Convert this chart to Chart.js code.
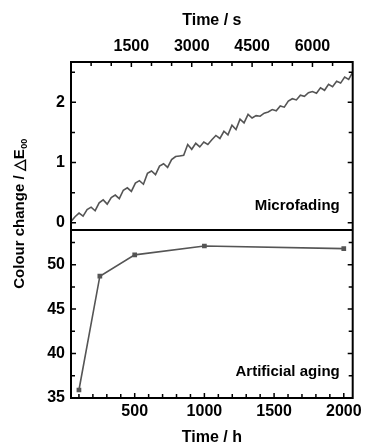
<!DOCTYPE html>
<html>
<head>
<meta charset="utf-8">
<script src="https://cdn.jsdelivr.net/npm/chart.js@4"></script>
<style>
html, body { margin: 0; padding: 0; background: #fff; }
</style>
</head>
<body>
<canvas id="c" width="366" height="446"></canvas>
<script>
// microfading: time in seconds vs colour change
const fadeTimeS = [0, 100, 200, 300, 400, 500, 600, 700, 800, 900,
  1000, 1100, 1200, 1300, 1400, 1500, 1600, 1700, 1800, 1900,
  2000, 2100, 2200, 2300, 2400, 2500, 2600, 2700, 2800, 2900,
  3000, 3100, 3200, 3300, 3400, 3500, 3600, 3700, 3800, 3900,
  4000, 4100, 4200, 4300, 4400, 4500, 4600, 4700, 4800, 4900,
  5000, 5100, 5200, 5300, 5400, 5500, 5600, 5700, 5800, 5900,
  6000, 6100, 6200, 6300, 6400, 6500, 6600, 6700, 6800, 6900, 7000];
const fadeDeltaE = [0.02, 0.10, 0.16, 0.11, 0.22, 0.26, 0.20, 0.33, 0.38, 0.31,
  0.42, 0.46, 0.40, 0.54, 0.58, 0.52, 0.66, 0.70, 0.64, 0.82,
  0.86, 0.80, 0.94, 0.98, 0.92, 1.05, 1.10, 1.11, 1.12, 1.30,
  1.22, 1.32, 1.26, 1.34, 1.30, 1.38, 1.45, 1.40, 1.52, 1.46,
  1.62, 1.55, 1.72, 1.66, 1.80, 1.74, 1.78, 1.77, 1.82, 1.84,
  1.88, 1.86, 1.94, 1.92, 2.02, 2.06, 2.04, 2.12, 2.10, 2.16,
  2.18, 2.15, 2.24, 2.20, 2.30, 2.26, 2.35, 2.32, 2.42, 2.38, 2.50];

// artificial aging: time in hours vs colour change
const ageTimeH = [100, 250, 500, 1000, 2000];
const ageDeltaE = [35.9, 48.7, 51.1, 52.1, 51.8];

// tick labels
const fadeTimeTicks = [1500, 3000, 4500, 6000];
const ageTimeTicks = [500, 1000, 1500, 2000];
const fadeYTicks = [0, 1, 2];
const ageYTicks = [35, 40, 45, 50];

const FONT = 'bold 15px "Liberation Sans", Arial, sans-serif';
const tickFont = { family: '"Liberation Sans", Arial, sans-serif', size: 16, weight: 'bold' };

function fixTicks(list) {
  return function(scale) {
    scale.ticks = list.map(v => ({ value: v }));
  };
}

const plainLabel = v => String(v);

const framePlugin = {
  id: 'frame',
  afterDatasetsDraw(chart) {
    const { ctx, chartArea: a, scales } = chart;
    const sT = scales.xTop, sB = scales.xBot, yF = scales.yFade, yA = scales.yAge;
    ctx.save();
    ctx.strokeStyle = '#000';
    ctx.lineWidth = 2;
    ctx.strokeRect(a.left, a.top, a.right - a.left, a.bottom - a.top);
    const mid = yF.bottom;
    ctx.beginPath();
    ctx.moveTo(a.left, mid);
    ctx.lineTo(a.right, mid);
    ctx.stroke();

    ctx.lineWidth = 1.5;
    ctx.beginPath();
    // top edge ticks, every 500 s
    for (let t = 500; t < 7000; t += 500) {
      const x = sT.getPixelForValue(t);
      const len = t % 1500 === 0 ? 5 : 4;
      ctx.moveTo(x, a.top); ctx.lineTo(x, a.top + len);
    }
    // bottom edge ticks, every 100 h
    for (let h = 100; h <= 2000; h += 100) {
      const x = sB.getPixelForValue(h);
      const len = h % 500 === 0 ? 5 : 4;
      ctx.moveTo(x, a.bottom); ctx.lineTo(x, a.bottom - len);
    }
    // left / right ticks, upper panel
    for (let v = 0; v <= 2.5; v += 0.5) {
      const y = yF.getPixelForValue(v);
      const len = v % 1 === 0 ? 5 : 4;
      ctx.moveTo(a.left, y); ctx.lineTo(a.left + len, y);
      ctx.moveTo(a.right, y); ctx.lineTo(a.right - len, y);
    }
    // left / right ticks, lower panel
    for (let v = 37.5; v <= 52.5; v += 2.5) {
      const y = yA.getPixelForValue(v);
      const len = v % 5 === 0 ? 5 : 4;
      ctx.moveTo(a.left, y); ctx.lineTo(a.left + len, y);
      ctx.moveTo(a.right, y); ctx.lineTo(a.right - len, y);
    }
    ctx.stroke();

    // panel labels
    ctx.fillStyle = '#000';
    ctx.font = FONT;
    ctx.textAlign = 'right';
    ctx.textBaseline = 'middle';
    ctx.fillText('Microfading', a.right - 13, yF.bottom - 24);
    ctx.fillText('Artificial aging', a.right - 13, a.bottom - 26);

    // shared y axis title
    ctx.translate(20, 214);
    ctx.rotate(-Math.PI / 2);
    const main = 'Colour change / \u25B3E';
    ctx.font = FONT;
    const w1 = ctx.measureText(main).width;
    ctx.font = 'bold 9px "Liberation Sans", Arial, sans-serif';
    const w2 = ctx.measureText('00').width;
    const x0 = -(w1 + w2) / 2;
    ctx.textAlign = 'left';
    ctx.font = FONT;
    ctx.fillText(main, x0, 0);
    ctx.font = 'bold 9px "Liberation Sans", Arial, sans-serif';
    ctx.fillText('00', x0 + w1 + 0.5, 5);
    ctx.restore();
  }
};

new Chart(document.getElementById('c'), {
  type: 'line',
  data: {
    datasets: [
      {
        label: 'Microfading',
        data: fadeTimeS.map((t, i) => ({ x: t, y: fadeDeltaE[i] })),
        xAxisID: 'xTop',
        yAxisID: 'yFade',
        borderColor: '#555',
        borderWidth: 1.6,
        pointRadius: 0,
        tension: 0
      },
      {
        label: 'Artificial aging',
        data: ageTimeH.map((t, i) => ({ x: t, y: ageDeltaE[i] })),
        xAxisID: 'xBot',
        yAxisID: 'yAge',
        borderColor: '#555',
        borderWidth: 1.6,
        pointStyle: 'rect',
        pointRadius: 2.2,
        pointBackgroundColor: '#555',
        pointBorderColor: '#555',
        tension: 0
      }
    ]
  },
  options: {
    responsive: false,
    animation: false,
    devicePixelRatio: 1,
    layout: { padding: { left: 0, right: 12, top: 0, bottom: 0 } },
    plugins: { legend: { display: false }, tooltip: { enabled: false } },
    scales: {
      xTop: {
        type: 'linear', position: 'top', min: 0, max: 7000,
        afterBuildTicks: fixTicks(fadeTimeTicks),
        afterFit: s => { s.height = 62; },
        grid: { display: false, drawTicks: false },
        border: { display: false },
        ticks: { font: tickFont, color: '#000', padding: 6, maxRotation: 0, callback: plainLabel },
        title: { display: true, text: 'Time / s', font: tickFont, color: '#000', padding: { top: 11, bottom: 4 } }
      },
      xBot: {
        type: 'linear', position: 'bottom', min: 43, max: 2064,
        afterBuildTicks: fixTicks(ageTimeTicks),
        afterFit: s => { s.height = 48; },
        grid: { display: false, drawTicks: false },
        border: { display: false },
        ticks: { font: tickFont, color: '#000', padding: 4, maxRotation: 0, callback: plainLabel },
        title: { display: true, text: 'Time / h', font: tickFont, color: '#000', padding: { top: 6, bottom: -1 } }
      },
      yAge: {
        type: 'linear', position: 'left', stack: 'panels', stackWeight: 1,
        min: 35, max: 53.9,
        afterBuildTicks: fixTicks(ageYTicks),
        afterFit: s => { s.width = 71; },
        grid: { display: false, drawTicks: false },
        border: { display: false },
        ticks: { font: tickFont, color: '#000', padding: 6, callback: plainLabel }
      },
      yFade: {
        type: 'linear', position: 'left', stack: 'panels', stackWeight: 1,
        min: -0.12, max: 2.67,
        afterBuildTicks: fixTicks(fadeYTicks),
        afterFit: s => { s.width = 71; },
        grid: { display: false, drawTicks: false },
        border: { display: false },
        ticks: { font: tickFont, color: '#000', padding: 6, callback: plainLabel }
      }
    }
  },
  plugins: [framePlugin]
});
</script>
</body>
</html>
